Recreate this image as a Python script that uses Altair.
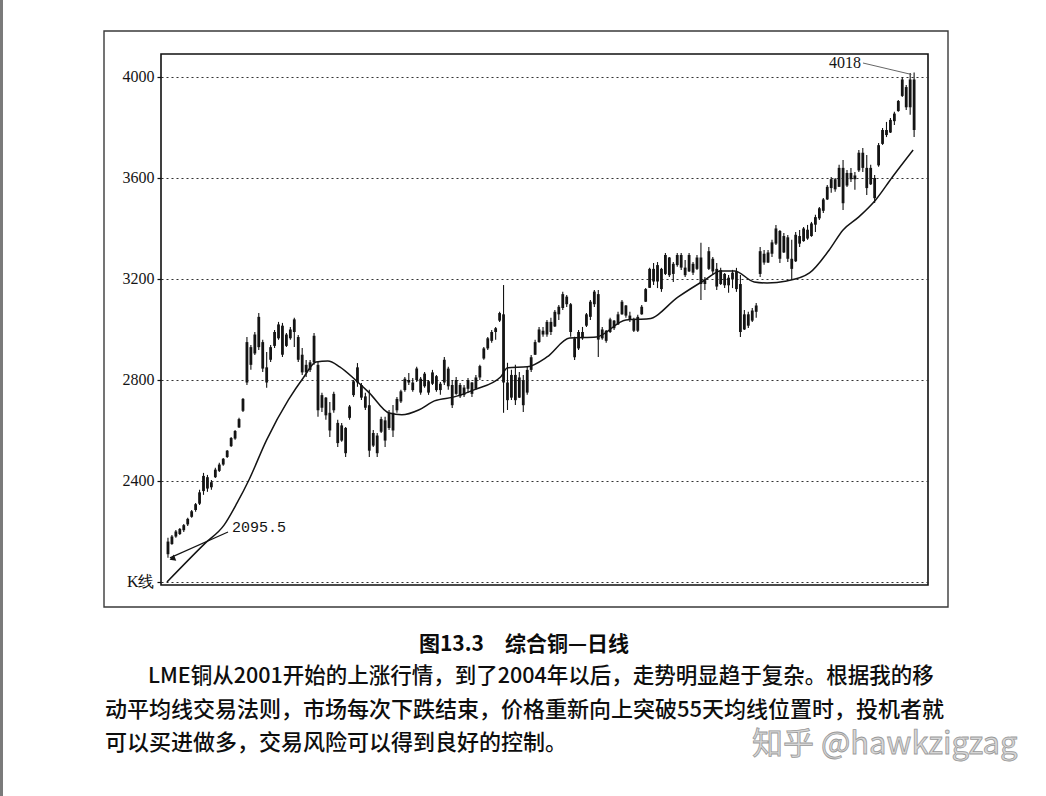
import altair as alt
import pandas as pd

# Daily candles (index = trading day), prices in USD/t
opens = [2110, 2150, 2180, 2190, 2205, 2228, 2258, 2285, 2310, 2360,
         2415, 2375, 2415, 2440, 2465, 2495, 2538, 2568, 2612, 2678,
         2790, 2930, 2905, 2930, 2950, 2850, 2880, 2935, 2965, 3015,
         2935, 2965, 2990, 2970, 2900, 2830, 2840, 2870, 2860, 2690,
         2730, 2670, 2680, 2630, 2560, 2610, 2650, 2740, 2790, 2780,
         2735, 2700, 2540, 2580, 2595, 2640, 2610, 2670, 2680, 2715,
         2760, 2800, 2790, 2800, 2805, 2775, 2795, 2785, 2815, 2760,
         2790, 2845, 2780, 2745, 2780, 2740, 2765, 2790, 2765, 2810,
         2885, 2925, 2955, 2990, 3035, 3060, 2790, 2730, 2820, 2730,
         2800, 2750, 2840, 2900, 2950, 2995, 2980, 3030, 3012, 3060,
         3085, 3130, 3100, 2965, 2925, 2990, 3015, 3050, 3100, 3140,
         2965, 2995, 2990, 3035, 3020, 3060, 3095, 3055, 3040, 2995,
         3060, 3110, 3165, 3240, 3190, 3240, 3220, 3285, 3220, 3255,
         3295, 3245, 3230, 3260, 3240, 3285, 3180, 3240, 3280, 3240,
         3180, 3220, 3175, 3200, 3230, 3180, 3000, 3060, 3035, 3070,
         3220, 3300, 3265, 3300, 3340, 3390, 3305, 3365, 3280, 3270,
         3370, 3350, 3395, 3370, 3415, 3440, 3470, 3515, 3560, 3595,
         3565, 3640, 3570, 3620, 3595, 3630, 3700, 3640, 3575, 3600,
         3650, 3735, 3790, 3780, 3825, 3865, 3925, 3960, 3880, 3990]
highs = [2175, 2186, 2206, 2214, 2230, 2254, 2285, 2313, 2365, 2432,
         2424, 2404, 2452, 2472, 2491, 2523, 2574, 2602, 2650, 2729,
         2970, 2939, 2990, 3065, 2959, 2911, 2939, 2998, 3030, 3026,
         2986, 3010, 3046, 2978, 2927, 2879, 2879, 2986, 2871, 2749,
         2733, 2713, 2753, 2642, 2630, 2614, 2701, 2800, 2867, 2788,
         2749, 2761, 2602, 2590, 2654, 2654, 2681, 2701, 2733, 2761,
         2812, 2828, 2808, 2852, 2812, 2832, 2800, 2840, 2820, 2792,
         2891, 2852, 2800, 2812, 2788, 2780, 2808, 2792, 2820, 2860,
         2931, 2970, 2998, 3010, 3070, 3176, 2868, 2840, 2860, 2832,
         2820, 2852, 2899, 2959, 3010, 3010, 3038, 3046, 3077, 3097,
         3149, 3137, 3105, 2971, 2998, 3010, 3065, 3117, 3156, 3156,
         3010, 2998, 3046, 3038, 3070, 3117, 3097, 3070, 3046, 3058,
         3097, 3164, 3244, 3263, 3267, 3244, 3303, 3287, 3267, 3303,
         3303, 3275, 3303, 3267, 3295, 3343, 3208, 3327, 3287, 3263,
         3244, 3224, 3216, 3236, 3244, 3216, 3077, 3070, 3085, 3105,
         3327, 3315, 3315, 3355, 3414, 3394, 3382, 3374, 3355, 3386,
         3394, 3406, 3414, 3426, 3454, 3485, 3521, 3572, 3604, 3600,
         3652, 3671, 3632, 3640, 3624, 3711, 3719, 3691, 3652, 3612,
         3739, 3798, 3822, 3838, 3862, 3909, 4000, 3968, 4016, 4018]
lows = [2095.5, 2147, 2175, 2186, 2198, 2222, 2254, 2278, 2305, 2345,
        2357, 2365, 2412, 2436, 2460, 2491, 2535, 2563, 2610, 2673,
        2780, 2840, 2899, 2919, 2832, 2769, 2871, 2927, 2959, 2891,
        2931, 2959, 2931, 2871, 2820, 2812, 2832, 2860, 2654, 2673,
        2642, 2574, 2670, 2535, 2555, 2495, 2642, 2733, 2773, 2721,
        2681, 2495, 2535, 2495, 2590, 2535, 2602, 2574, 2670, 2709,
        2753, 2780, 2753, 2792, 2741, 2769, 2741, 2780, 2753, 2741,
        2780, 2761, 2689, 2741, 2729, 2733, 2749, 2733, 2761, 2800,
        2880, 2919, 2947, 2959, 3030, 2670, 2681, 2721, 2701, 2729,
        2673, 2741, 2832, 2899, 2947, 2971, 2971, 2978, 3010, 3038,
        3077, 3089, 2971, 2879, 2919, 2959, 3010, 3038, 3089, 2891,
        2959, 2947, 2986, 2998, 3018, 3058, 3046, 3030, 2990, 2990,
        3058, 3109, 3164, 3176, 3164, 3149, 3216, 3208, 3188, 3248,
        3236, 3208, 3228, 3216, 3236, 3117, 3156, 3236, 3216, 3156,
        3176, 3164, 3145, 3164, 3149, 2970, 2998, 3006, 3030, 3046,
        3208, 3256, 3263, 3287, 3335, 3263, 3303, 3267, 3196, 3267,
        3327, 3347, 3355, 3367, 3386, 3434, 3461, 3513, 3541, 3545,
        3564, 3473, 3564, 3584, 3553, 3624, 3624, 3533, 3572, 3501,
        3644, 3731, 3762, 3778, 3810, 3862, 3921, 3869, 3850, 3762]
closes = [2160, 2180, 2200, 2210, 2225, 2250, 2280, 2308, 2355, 2420,
          2370, 2395, 2445, 2465, 2488, 2520, 2570, 2598, 2645, 2725,
          2950, 2860, 2980, 3050, 2845, 2790, 2930, 2990, 3020, 2900,
          2980, 3000, 3040, 2880, 2830, 2860, 2870, 2975, 2680, 2740,
          2660, 2600, 2745, 2550, 2620, 2510, 2695, 2795, 2850, 2730,
          2690, 2520, 2590, 2510, 2645, 2560, 2670, 2600, 2725, 2755,
          2805, 2790, 2760, 2845, 2750, 2825, 2750, 2830, 2760, 2785,
          2880, 2775, 2700, 2800, 2735, 2770, 2800, 2745, 2810, 2855,
          2925, 2965, 2990, 3005, 3065, 2790, 2720, 2820, 2720, 2810,
          2700, 2840, 2890, 2950, 3000, 2980, 3030, 2990, 3070, 3090,
          3140, 3100, 2990, 2890, 2990, 2965, 3060, 3110, 3150, 2960,
          3000, 2955, 3040, 3005, 3060, 3110, 3055, 3040, 2995, 3050,
          3090, 3160, 3240, 3190, 3255, 3160, 3295, 3215, 3260, 3295,
          3245, 3215, 3295, 3225, 3285, 3180, 3195, 3310, 3230, 3170,
          3235, 3175, 3205, 3225, 3160, 2990, 3060, 3015, 3075, 3095,
          3310, 3265, 3305, 3345, 3400, 3280, 3370, 3280, 3240, 3375,
          3340, 3400, 3360, 3420, 3445, 3480, 3515, 3565, 3595, 3555,
          3640, 3500, 3620, 3595, 3610, 3700, 3640, 3560, 3640, 3520,
          3730, 3790, 3770, 3830, 3855, 3905, 3990, 3880, 3990, 3790]
days = list(range(len(closes)))

# 55-day moving average, read at selected days
ma_days = [-0.25, 9.25, 14.25, 17.5, 20.5, 25, 30.5, 34.25, 37.5, 40.5,
           43.5, 47.5, 51, 56, 59.25, 63.5, 67.5, 72.5, 77.5, 84.25,
           86, 91, 96, 101.75, 108.5, 116, 121.75, 129.25, 136, 140,
           143.5, 148.5, 151.75, 156.75, 162.5, 167.5, 171, 175, 179.25,
           183.5, 188.75]
ma_values = [2000, 2151, 2226, 2313, 2404, 2563, 2721, 2808, 2871, 2875,
             2852, 2800, 2749, 2669, 2662, 2681, 2717, 2733, 2761, 2812,
             2848, 2852, 2891, 2966, 2970, 3038, 3042, 3129, 3196, 3232,
             3232, 3188, 3184, 3192, 3224, 3315, 3394, 3446, 3513,
             3604, 3711]

y_ticks = [2000, 2400, 2800, 3200, 3600, 4000]

low_label = "2095.5"
high_label = "4018"
title_text = "图13.3　综合铜—日线"
body_lines = [
    "LME铜从2001开始的上涨行情，到了2004年以后，走势明显趋于复杂。根据我的移",
    "动平均线交易法则，市场每次下跌结束，价格重新向上突破55天均线位置时，投机者就",
    "可以买进做多，交易风险可以得到良好的控制。",
]
watermark = "知乎 @hawkzigzag"

candles = pd.DataFrame({"day": days, "open": opens, "high": highs,
                        "low": lows, "close": closes})
ma = pd.DataFrame({"day": ma_days, "ma": ma_values})
one = pd.DataFrame({"k": [0]})

W, H = 767, 531
xs = alt.Scale(domain=[-0.5, 191.25], nice=False, zero=False)
ys = alt.Scale(domain=[1988, 4091], nice=False, zero=False)
INK = "#141414"

y_axis = alt.Axis(
    values=y_ticks,
    labelExpr="datum.value == 2000 ? 'K线' : datum.value",
    grid=True, gridDash=[2, 3], gridColor="#333", gridWidth=1.1,
    domain=False, tickSize=4, tickColor="#111", tickWidth=1.2,
    labelFont="Liberation Serif", labelFontSize=16, labelColor=INK,
    labelPadding=3, title=None,
)

base = alt.Chart(candles)
wicks = base.mark_rule(color=INK, strokeWidth=1.1).encode(
    x=alt.X("day:Q", scale=xs, axis=None),
    y=alt.Y("low:Q", scale=ys, axis=y_axis),
    y2="high:Q",
)
bodies = base.mark_bar(color=INK, size=2.8).encode(
    x=alt.X("day:Q", scale=xs),
    y=alt.Y("open:Q", scale=ys),
    y2="close:Q",
)
ma_line = alt.Chart(ma).mark_line(color=INK, strokeWidth=1.5,
                                  interpolate="monotone").encode(
    x=alt.X("day:Q", scale=xs),
    y=alt.Y("ma:Q", scale=ys),
)

# annotation of the low
low_day = days[lows.index(min(lows))] + 0.5
low_arrow = alt.Chart(one).mark_rule(color=INK, strokeWidth=1.2).encode(
    x=alt.datum(low_day, scale=xs), y=alt.datum(min(lows), scale=ys),
    x2=alt.value(67), y2=alt.value(478),
)
low_head = alt.Chart(one).mark_point(shape="triangle-up", filled=True, color=INK,
                                     size=45, angle=249, opacity=1).encode(
    x=alt.datum(low_day + 0.6, scale=xs), y=alt.datum(min(lows) - 3, scale=ys),
)
low_text = alt.Chart(one).mark_text(text=low_label, font="Liberation Mono",
                                    fontSize=15, color=INK, align="left",
                                    baseline="middle").encode(
    x=alt.value(71), y=alt.value(473),
)

# annotation of the high
high_day = days[highs.index(max(highs))] - 0.7
high_lead = alt.Chart(one).mark_rule(color="#555", strokeWidth=0.9).encode(
    x=alt.datum(high_day, scale=xs), y=alt.datum(max(highs) - 8, scale=ys),
    x2=alt.value(702), y2=alt.value(9),
)
high_text = alt.Chart(one).mark_text(text=high_label, font="Liberation Serif",
                                     fontSize=16, color=INK, align="right",
                                     baseline="middle").encode(
    x=alt.value(700), y=alt.value(9),
)

# outer figure frame and page edge
frame = alt.Chart(one).mark_rect(fill="white", fillOpacity=0, stroke="#3a3a3a",
                                 strokeWidth=1.4).encode(
    x=alt.value(-57), x2=alt.value(787), y=alt.value(-23), y2=alt.value(553),
)
edge = alt.Chart(one).mark_rect(color="#7a7a7a").encode(
    x=alt.value(-161), x2=alt.value(-158), y=alt.value(-54), y2=alt.value(742),
)

# caption and body text
caption = alt.Chart(one).mark_text(text=title_text, font="Noto Sans CJK SC",
                                   fontSize=21, fontWeight="bold", color="#0c0c0c",
                                   align="center", baseline="middle").encode(
    x=alt.value(363), y=alt.value(591),
)
body = [
    alt.Chart(one).mark_text(text=t, font="Noto Sans CJK SC", fontSize=fs,
                             fontWeight=500, color="#0e0e0e", align="left",
                             baseline="middle").encode(
        x=alt.value(xv), y=alt.value(yv),
    )
    for t, fs, xv, yv in zip(body_lines, [21.5, 22, 22], [-13, -56, -56],
                             [623, 656, 689])
]
mark_wm = alt.Chart(one).mark_text(text=watermark, font="Noto Sans CJK SC",
                                   fontSize=31, color="#d6d6d6", stroke="#9a9a9a",
                                   strokeWidth=0.8, align="left",
                                   baseline="middle").encode(
    x=alt.value(591), y=alt.value(691),
)

chart = alt.layer(
    frame, edge, wicks, bodies, ma_line,
    low_arrow, low_head, low_text, high_lead, high_text,
    caption, *body, mark_wm,
).properties(
    width=W, height=H,
    background="white",
    padding={"left": 161, "top": 54, "right": 118, "bottom": 211},
    autosize=alt.AutoSizeParams(type="none"),
).configure_view(
    stroke="#111", strokeWidth=1.6,
)

chart.save("out.html", embed_options={"renderer": "svg", "actions": False})
